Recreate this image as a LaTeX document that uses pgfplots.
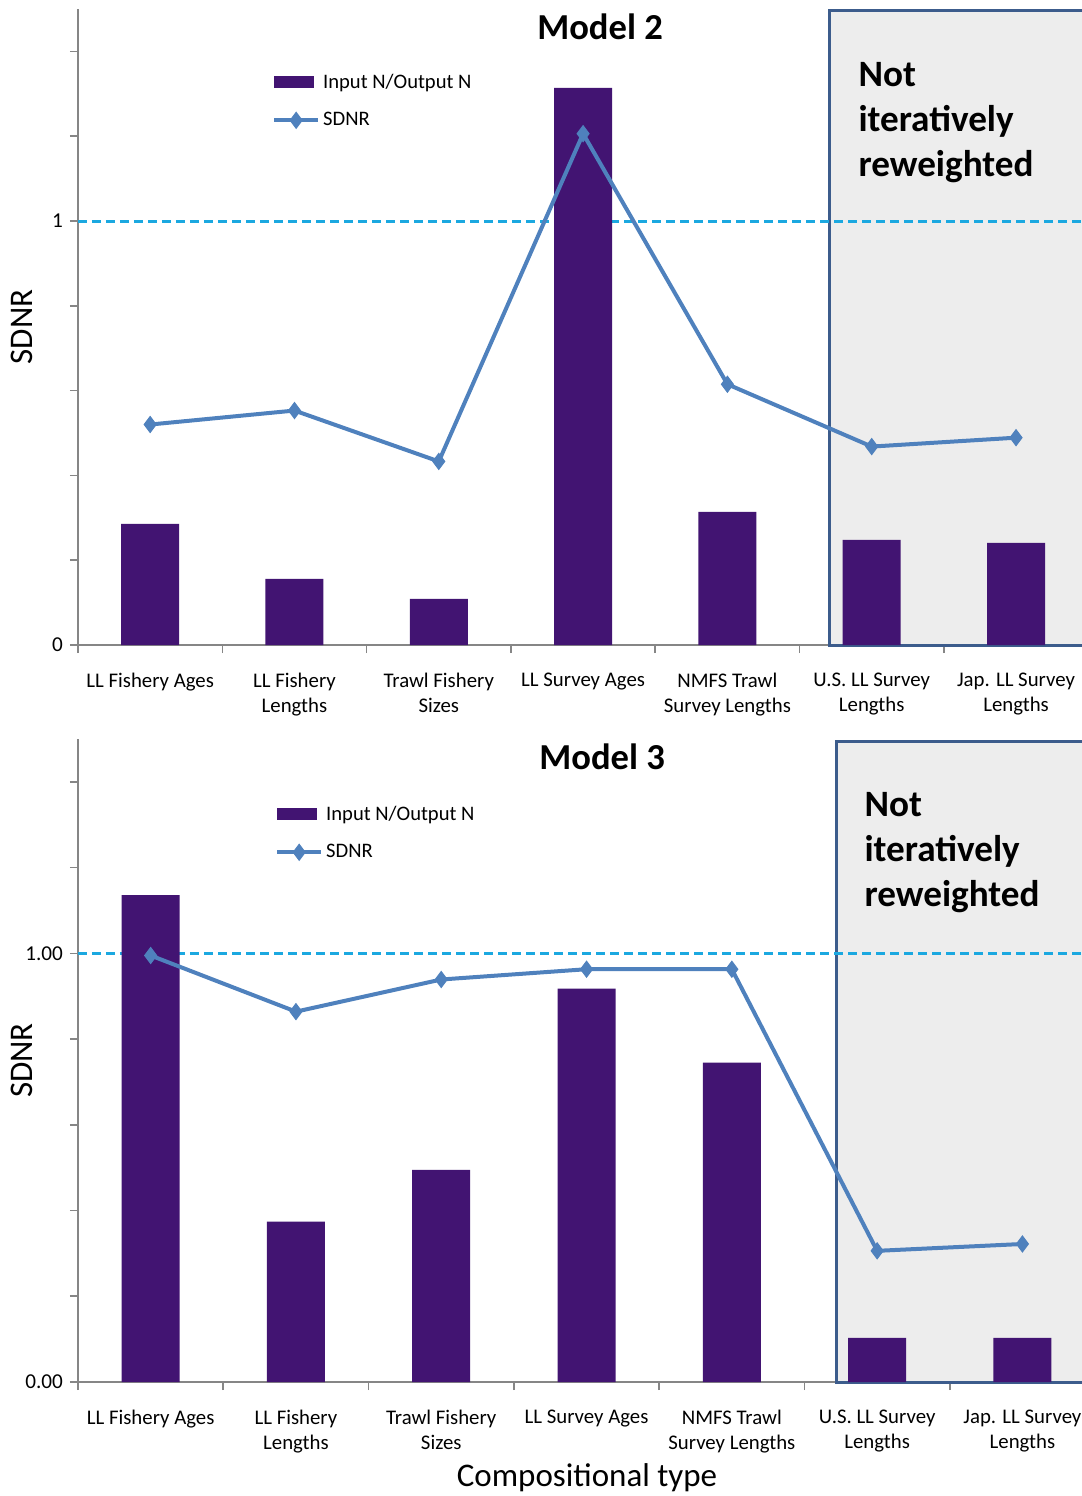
\documentclass[border=0pt]{standalone}
\usepackage{fontspec}
\setmainfont{Carlito}
\usepackage{pgfplots}
\pgfplotsset{compat=1.18}

\definecolor{barpurple}{RGB}{66,20,114}
\definecolor{linblue}{RGB}{79,129,189}
\definecolor{dashblue}{RGB}{27,168,224}
\definecolor{boxborder}{RGB}{60,92,140}
\definecolor{boxfill}{RGB}{237,237,237}
\definecolor{axgray}{RGB}{134,134,134}

\pgfplotsset{
  mystyle/.style={
    scale only axis, width=502pt,
    xmin=-0.5, ymin=0, ymax=1.5,
    clip=false,
    axis x line=bottom, axis y line=left,
    axis line style={-, axgray, line width=1pt},
    xtick={0,...,6},
    xticklabels={LL Fishery Ages, {LL Fishery\\Lengths}, {Trawl Fishery\\Sizes}, LL Survey Ages, {NMFS Trawl\\Survey Lengths}, {U.S. LL Survey\\Lengths}, {Jap. LL Survey\\Lengths}},
    xticklabel style={font=\fontsize{10.4}{12.5}\selectfont, align=center, yshift=-6.5pt},
    major x tick style={draw=none},
    minor xtick={-0.5,0.5,1.5,2.5,3.5,4.5,5.5},
    ytick={0,1},
    minor ytick={0.2,0.4,0.6,0.8,1.2,1.4},
    yticklabel style={font=\fontsize{10.6}{12}\selectfont},
    tick align=outside,
    tick style={axgray, line width=0.8pt},
    major tick length=4pt, minor tick length=4pt,
    /pgf/number format/assume math mode=true,
    legend style={draw=none, fill=none, font=\fontsize{10.3}{12}\selectfont, row sep=6.5pt, legend cell align=left, inner sep=0pt, nodes={inner xsep=1.5pt}},
  },
  barsty/.style={ybar, bar width=29pt, fill=barpurple, draw=none,
    legend image code/.code={\fill[barpurple] (0pt,-3pt) rectangle (20pt,3pt);}},
  linesty/.style={linblue, line width=2pt, mark=diamond*, mark size=4pt, mark options={fill=linblue, draw=linblue, line width=0.5pt},
    legend image code/.code={\draw[mark repeat=2, mark phase=2, ##1] plot coordinates {(0pt,0pt)(11pt,0pt)(22pt,0pt)};}},
}

\begin{document}
\begin{tikzpicture}
\useasboundingbox (0,0) rectangle (541pt,-748pt);

% ---------------- Model 2 ----------------
\begin{axis}[mystyle, height=318pt, xmax=6.457, at={(39pt,-322.5pt)}, anchor=south west,
  yticklabels={0,1},
  legend style={at={(rel axis cs:0.193,0.905)}, anchor=north west}]
\filldraw[fill=boxfill, draw=boxborder, line width=1.5pt] (axis cs:4.71,0) rectangle (axis cs:6.6,1.496);
\draw[dashblue, line width=1.5pt, dash pattern=on 4.5pt off 2.5pt] (axis cs:-0.5,1) -- (axis cs:6.6,1);
\addplot[barsty] coordinates {(0,0.286) (1,0.156) (2,0.109) (3,1.314) (4,0.314) (5,0.248) (6,0.241)};
\addlegendentry{Input N/Output N}
\addplot[linesty] coordinates {(0,0.520) (1,0.553) (2,0.433) (3,1.206) (4,0.615) (5,0.468) (6,0.489)};
\addlegendentry{SDNR}
\node[font=\bfseries\fontsize{18.3}{20}\selectfont] at (rel axis cs:0.52,0.972) {Model 2};
\node[anchor=north west, align=left, inner sep=0pt, font=\bfseries\fontsize{18.6}{22.5}\selectfont] at (rel axis cs:0.777,0.916) {Not\\iteratively\\reweighted};
\node[rotate=90, font=\fontsize{16.5}{18}\selectfont] at (rel axis cs:-0.056,0.5) {SDNR};
\end{axis}

% ---------------- Model 3 ----------------
\begin{axis}[mystyle, height=321.5pt, xmax=6.41, at={(39pt,-691pt)}, anchor=south west,
  yticklabels={0.00,1.00},
  legend style={at={(rel axis cs:0.196,0.903)}, anchor=north west}]
\filldraw[fill=boxfill, draw=boxborder, line width=1.5pt] (axis cs:4.72,0) rectangle (axis cs:6.6,1.495);
\draw[dashblue, line width=1.5pt, dash pattern=on 4.5pt off 2.5pt] (axis cs:-0.5,1) -- (axis cs:6.6,1);
\addplot[barsty] coordinates {(0,1.136) (1,0.374) (2,0.495) (3,0.918) (4,0.745) (5,0.103) (6,0.103)};
\addlegendentry{Input N/Output N}
\addplot[linesty] coordinates {(0,0.995) (1,0.864) (2,0.939) (3,0.963) (4,0.963) (5,0.306) (6,0.322)};
\addlegendentry{SDNR}
\node[font=\bfseries\fontsize{18.3}{20}\selectfont] at (rel axis cs:0.522,0.972) {Model 3};
\node[anchor=north west, align=left, inner sep=0pt, font=\bfseries\fontsize{18.6}{22.5}\selectfont] at (rel axis cs:0.783,0.917) {Not\\iteratively\\reweighted};
\node[rotate=90, font=\fontsize{16.5}{18}\selectfont] at (rel axis cs:-0.056,0.5) {SDNR};
\node[font=\fontsize{16.5}{18}\selectfont] at (rel axis cs:0.507,-0.149) {Compositional type};
\end{axis}
\end{tikzpicture}
\end{document}
